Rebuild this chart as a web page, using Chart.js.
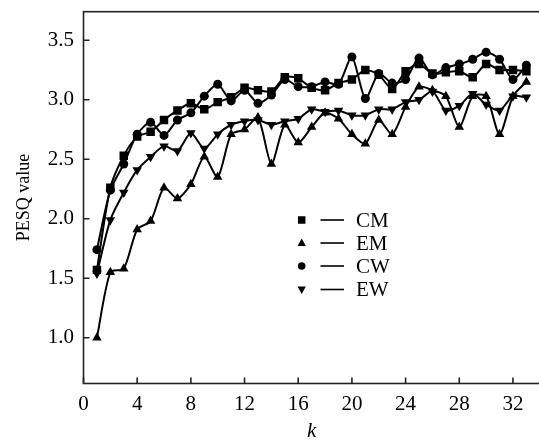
<!DOCTYPE html>
<html><head><meta charset="utf-8">
<script src="https://cdn.jsdelivr.net/npm/chart.js@4.4.0/dist/chart.umd.min.js"></script>
<style>
html,body{margin:0;padding:0;overflow:hidden;background:#fff;width:539px;height:441px}
#wrap{position:absolute;left:0;top:0;width:546px;height:441px}
</style>
</head><body><div id="wrap"><canvas id="c" width="546" height="441"></canvas></div>
<script>
// ---- data ----
const kValues = [1,2,3,4,5,6,7,8,9,10,11,12,13,14,15,16,17,18,19,20,21,22,23,24,25,26,27,28,29,30,31,32,33];
const seriesNames = ['CM','EM','CW','EW'];
const cmValues = [1.57,2.26,2.53,2.69,2.73,2.83,2.91,2.97,2.92,2.98,3.02,3.10,3.08,3.07,3.19,3.18,3.10,3.08,3.14,3.17,3.25,3.21,3.09,3.24,3.30,3.22,3.23,3.24,3.19,3.30,3.25,3.25,3.24];
const emValues = [1.00,1.55,1.58,1.91,1.98,2.26,2.17,2.29,2.52,2.35,2.71,2.75,2.85,2.46,2.79,2.64,2.77,2.89,2.84,2.71,2.63,2.83,2.71,2.94,3.11,3.08,3.03,2.77,3.03,3.03,2.71,3.03,3.15];
const cwValues = [1.74,2.24,2.46,2.71,2.81,2.70,2.83,2.89,3.03,3.13,2.99,3.08,2.97,3.04,3.17,3.11,3.11,3.15,3.13,3.36,3.01,3.22,3.14,3.17,3.35,3.21,3.27,3.30,3.34,3.40,3.34,3.17,3.29];
const ewValues = [1.54,1.99,2.22,2.41,2.52,2.61,2.57,2.72,2.59,2.71,2.79,2.82,2.83,2.79,2.82,2.84,2.92,2.90,2.91,2.87,2.87,2.92,2.92,2.98,3.00,3.07,2.91,2.95,3.05,2.96,2.91,3.03,3.02];
const xTickValues = [0,4,8,12,16,20,24,28,32];
const yTickValues = [1.0,1.5,2.0,2.5,3.0,3.5];
const xAxisTitle = 'k';
const yAxisTitle = 'PESQ value';

const FONT = '"Liberation Serif", "Times New Roman", serif';
const seriesValues = [cmValues, emValues, cwValues, ewValues];
const styles = [
  {pointStyle:'rect', radius:6, rotation:0},
  {pointStyle:'triangle', radius:5.5, rotation:0},
  {pointStyle:'circle', radius:4.5, rotation:0},
  {pointStyle:'triangle', radius:5.5, rotation:180}
];

const datasets = seriesNames.map((name, i) => ({
  label: name,
  data: kValues.map((k, j) => ({x: k, y: seriesValues[i][j]})),
  borderColor: '#000',
  backgroundColor: '#000',
  borderWidth: 2,
  tension: 0.25,
  pointStyle: styles[i].pointStyle,
  pointRadius: styles[i].radius,
  pointRotation: styles[i].rotation,
  pointBorderWidth: 0,
  pointBackgroundColor: '#000',
  fill: false
}));

function drawMarker(ctx, type, x, y, s) {
  ctx.beginPath();
  if (type === 0) { ctx.rect(x - s/2, y - s/2, s, s); }
  else if (type === 1) { ctx.moveTo(x, y - s*0.6); ctx.lineTo(x + s*0.55, y + s*0.4); ctx.lineTo(x - s*0.55, y + s*0.4); ctx.closePath(); }
  else if (type === 2) { ctx.arc(x, y, s/2, 0, Math.PI*2); }
  else { ctx.moveTo(x, y + s*0.6); ctx.lineTo(x + s*0.55, y - s*0.4); ctx.lineTo(x - s*0.55, y - s*0.4); ctx.closePath(); }
  ctx.fill();
}

const framePlugin = {
  id: 'frame',
  afterDraw(chart) {
    const {ctx, chartArea: a, scales: {x, y}} = chart;
    ctx.save();
    ctx.strokeStyle = '#222';
    ctx.lineWidth = 1.6;
    ctx.strokeRect(a.left, a.top, a.right - a.left, a.bottom - a.top);
    ctx.beginPath();
    x.ticks.forEach(t => { const px = x.getPixelForValue(t.value); ctx.moveTo(px, a.bottom); ctx.lineTo(px, a.bottom - 6); });
    y.ticks.forEach(t => { const py = y.getPixelForValue(t.value); ctx.moveTo(a.left, py); ctx.lineTo(a.left + 6, py); });
    ctx.stroke();
    // legend
    const rows = [220, 243, 266, 289.5];
    ctx.fillStyle = '#000';
    ctx.strokeStyle = '#000';
    ctx.lineWidth = 1.6;
    ctx.font = '21px ' + FONT;
    ctx.textBaseline = 'middle';
    ctx.textAlign = 'left';
    seriesNames.forEach((name, i) => {
      const yy = rows[i];
      drawMarker(ctx, i, 301.7, yy, 7.5);
      ctx.beginPath(); ctx.moveTo(320.5, yy); ctx.lineTo(344, yy); ctx.stroke();
      ctx.fillText(name, 356, yy + 1);
    });
    ctx.restore();
  }
};

new Chart(document.getElementById('c'), {
  type: 'line',
  data: { datasets },
  options: {
    responsive: false,
    animation: false,
    devicePixelRatio: 1,
    layout: { padding: { top: 11.7, right: 6.2, bottom: 0, left: 0 } },
    plugins: { legend: { display: false }, tooltip: { enabled: false } },
    scales: {
      x: {
        type: 'linear', min: 0, max: 34,
        grid: { display: false, drawTicks: false },
        border: { display: false },
        afterBuildTicks(s) { s.ticks = xTickValues.map(v => ({value: v})); },
        afterFit(s) { s.height = 57.5; s.paddingLeft = 0; s.paddingRight = 0; },
        ticks: { color: '#000', font: { family: FONT, size: 21 }, padding: 8, maxRotation: 0, autoSkip: false,
                 callback: v => String(v) },
        title: { display: true, text: xAxisTitle, color: '#000', font: { family: FONT, size: 21, style: 'italic' }, padding: { top: 0, bottom: -3 } }
      },
      y: {
        type: 'linear', min: 0.615, max: 3.74,
        grid: { display: false, drawTicks: false },
        border: { display: false },
        afterBuildTicks(s) { s.ticks = yTickValues.map(v => ({value: v})); },
        afterFit(s) { s.width = 83.5; s.paddingTop = 0; s.paddingBottom = 0; },
        ticks: { color: '#000', font: { family: FONT, size: 21 }, padding: 9.5, autoSkip: false,
                 callback: v => Number(v).toFixed(1) },
        title: { display: true, text: yAxisTitle, color: '#000', font: { family: FONT, size: 18 }, padding: { top: 13, bottom: 0 } }
      }
    }
  },
  plugins: [framePlugin]
});
</script>
</body></html>
